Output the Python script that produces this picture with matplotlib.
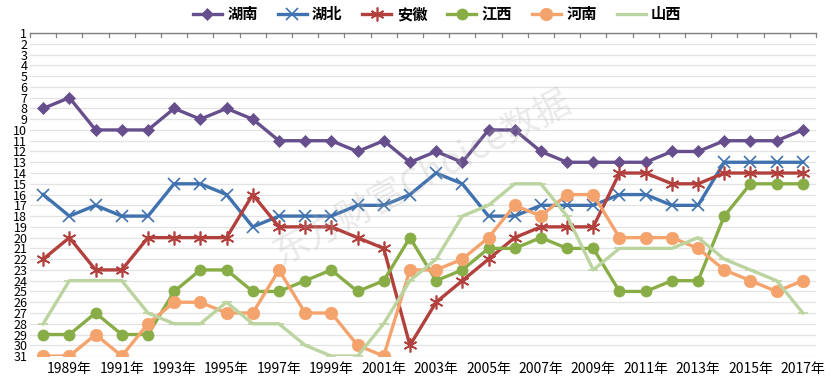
import numpy as np
import matplotlib.pyplot as plt

plt.rcParams['font.family'] = ['Noto Sans CJK SC', 'DejaVu Sans']

# Data: provincial rankings (1 = best), 1988-2017
years = list(range(1988, 2018))
hunan = [8, 7, 10, 10, 10, 8, 9, 8, 9, 11, 11, 11, 12, 11, 13, 12, 13, 10, 10, 12,
         13, 13, 13, 13, 12, 12, 11, 11, 11, 10]
hubei = [16, 18, 17, 18, 18, 15, 15, 16, 19, 18, 18, 18, 17, 17, 16, 14, 15, 18, 18, 17,
         17, 17, 16, 16, 17, 17, 13, 13, 13, 13]
anhui = [22, 20, 23, 23, 20, 20, 20, 20, 16, 19, 19, 19, 20, 21, 30, 26, 24, 22, 20, 19,
         19, 19, 14, 14, 15, 15, 14, 14, 14, 14]
jiangxi = [29, 29, 27, 29, 29, 25, 23, 23, 25, 25, 24, 23, 25, 24, 20, 24, 23, 21, 21, 20,
           21, 21, 25, 25, 24, 24, 18, 15, 15, 15]
henan = [31, 31, 29, 31, 28, 26, 26, 27, 27, 23, 27, 27, 30, 31, 23, 23, 22, 20, 17, 18,
         16, 16, 20, 20, 20, 21, 23, 24, 25, 24]
shanxi = [28, 24, 24, 24, 27, 28, 28, 26, 28, 28, 30, 31, 31, 28, 24, 22, 18, 17, 15, 15,
          18, 23, 21, 21, 21, 20, 22, 23, 24, 27]

names = ['湖南', '湖北', '安徽', '江西', '河南', '山西']
colors = ['#664f8c', '#3f72ae', '#b2413e', '#88ad47', '#f5a36c', '#bcd4a0']
markers = ['D', 'x', (6, 2, 0), 'o', 'o', '_']
msizes = [6, 9, 10, 8, 9, 7]
series = [hunan, hubei, anhui, jiangxi, henan, shanxi]

fig = plt.figure(figsize=(8.36, 3.8), dpi=100)
ax = fig.add_axes([0.036, 0.063, 0.94, 0.85])

x = np.arange(len(years))
for vals, name, c, m, ms in zip(series, names, colors, markers, msizes):
    ax.plot(x, vals, color=c, lw=2.4, marker=m, markersize=ms,
            markeredgewidth=1.2 if m in ('x', '_') or isinstance(m, tuple) else 0.5,
            markeredgecolor=c, label=name, zorder=3)

ax.set_ylim(31, 1)
ax.set_xlim(-0.5, len(years) - 0.5)
ax.set_yticks(range(1, 32))
ax.set_yticklabels([str(i) for i in range(1, 32)], fontsize=9)
ax.grid(axis='y', color='#e3e3e3', lw=0.9, zorder=0)

# category axis drawn at the top (rank 1), labels at bottom
ax.set_xticks(x[1::2])
ax.set_xticklabels([f'{y}年' for y in years[1::2]], fontsize=10)
ax.tick_params(axis='x', length=0, pad=4)
ax.tick_params(axis='y', length=0, pad=2)
for xb in np.arange(-0.5, len(years), 1):
    ax.plot([xb, xb], [1, 1.35], color='#808080', lw=0.9, clip_on=False, zorder=4)

for s in ['left', 'right', 'bottom']:
    ax.spines[s].set_visible(False)
ax.spines['top'].set_color('#808080')
ax.spines['top'].set_linewidth(1.0)

# faint watermark
ax.text(0.5, 0.55, '东方财富Choice数据', transform=ax.transAxes, fontsize=26,
        color='#b0b0b0', alpha=0.25, rotation=28, ha='center', va='center')

fig.legend(loc='upper center', bbox_to_anchor=(0.523, 1.02), ncol=6, frameon=False,
           prop={'weight': 'bold', 'size': 11}, handlelength=1.9, columnspacing=1.3,
           handletextpad=0.35)

fig.savefig('out.png', dpi=100)
